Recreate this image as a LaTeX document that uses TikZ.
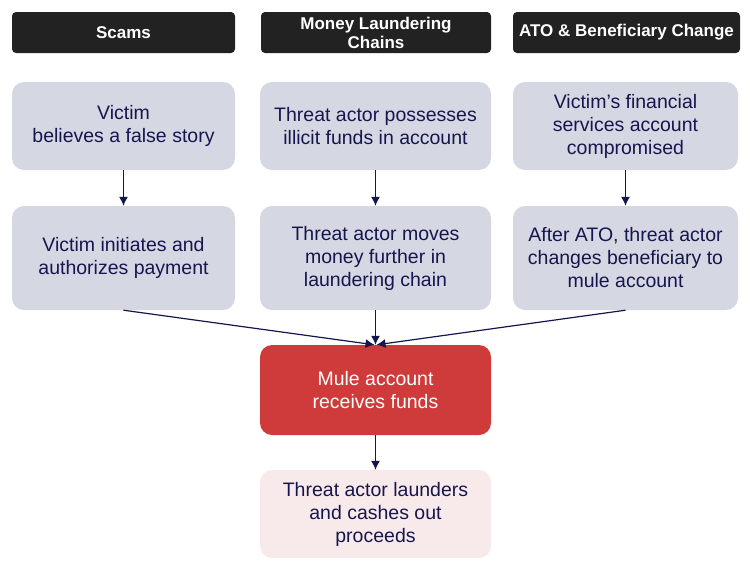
\documentclass[tikz,border=0pt]{standalone}
\usepackage{fontspec}
\setmainfont{Liberation Sans}
\usetikzlibrary{arrows.meta}
\definecolor{hdr}{HTML}{222222}
\definecolor{boxg}{HTML}{D5D8E2}
\definecolor{ink}{HTML}{16164F}
\definecolor{mule}{HTML}{CF3A3A}
\definecolor{pinkb}{HTML}{F8EAEA}
\tikzset{
  hdrbox/.style={fill=hdr, rounded corners=4pt, text=white, font=\fontsize{17}{19}\selectfont\bfseries, align=center, inner sep=0pt},
  stepbox/.style={fill=boxg, rounded corners=12pt, text=ink, font=\fontsize{19.5}{23}\selectfont, align=center, inner sep=0pt},
  mulebox/.style={fill=mule, rounded corners=12pt, text=white, font=\fontsize{19.5}{23}\selectfont, align=center, inner sep=0pt},
  endbox/.style={fill=pinkb, rounded corners=12pt, text=ink, font=\fontsize{19.5}{23}\selectfont, align=center, inner sep=0pt},
  conn/.style={draw=ink, line width=1.2pt, -{Latex[length=9pt,width=9pt]}}
}
\begin{document}
\begin{tikzpicture}[x=1pt,y=-1pt]
\useasboundingbox (0,0) rectangle (750,574);
% headers
\node[hdrbox, minimum width=223pt, minimum height=41pt] (h1) at (123.5,32.5) {Scams};
\node[hdrbox, minimum width=230pt, minimum height=41pt] (h2) at (376,32.5) {Money Laundering\\Chains};
\node[hdrbox, minimum width=227pt, minimum height=41pt] (h3) at (626.5,32.5) {ATO \& Beneficiary Change};
% row 1
\node[stepbox, minimum width=223pt, minimum height=88pt] (a1) at (123.5,126) {Victim\\believes a false story};
\node[stepbox, minimum width=231pt, minimum height=88pt] (b1) at (375.5,126) {Threat actor possesses\\illicit funds in account};
\node[stepbox, minimum width=225pt, minimum height=88pt] (c1) at (625.5,126) {Victim’s financial\\services account\\compromised};
% row 2
\node[stepbox, minimum width=223pt, minimum height=104pt] (a2) at (123.5,258) {Victim initiates and\\authorizes payment};
\node[stepbox, minimum width=231pt, minimum height=104pt] (b2) at (375.5,258) {Threat actor moves\\money further in\\laundering chain};
\node[stepbox, minimum width=225pt, minimum height=104pt] (c2) at (625.5,258) {After ATO, threat actor\\changes beneficiary to\\mule account};
% mule
\node[mulebox, minimum width=231pt, minimum height=90pt] (m) at (375.5,390) {Mule account\\receives funds};
% final
\node[endbox, minimum width=231pt, minimum height=88pt] (f) at (375.5,514) {Threat actor launders\\and cashes out\\proceeds};
% connectors
\draw[conn] (a1.south) -- (a2.north);
\draw[conn] (b1.south) -- (b2.north);
\draw[conn] (c1.south) -- (c2.north);
\draw[conn] (a2.south) -- ([xshift=-1pt]m.north);
\draw[conn] (b2.south) -- (m.north);
\draw[conn] (c2.south) -- ([xshift=1pt]m.north);
\draw[conn] (m.south) -- (f.north);
\end{tikzpicture}
\end{document}
